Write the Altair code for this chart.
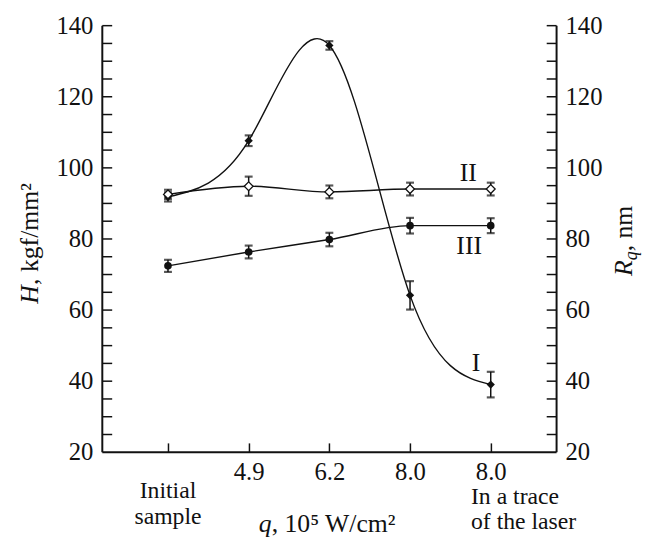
import json
import altair as alt
import pandas as pd

# ---------------- data ----------------
x_index = [0, 1, 2, 3, 4]
x_tick_labels = ["", "4.9", "6.2", "8.0", "8.0"]

curve_I = [91.7, 107.5, 134.3, 64.0, 38.9]
err_I = [1.3, 1.5, 1.2, 4.0, 3.6]
curve_II = [92.4, 94.7, 93.1, 93.9, 93.9]
err_II = [1.3, 2.7, 1.8, 1.8, 1.8]
curve_III = [72.3, 76.2, 79.7, 83.6, 83.6]
err_III = [1.7, 1.8, 1.9, 2.2, 2.1]

y_major = [20, 40, 60, 80, 100, 120, 140]
y_ticks = list(range(25, 145, 5))

left_note = ["Initial", "sample"]
right_note = ["In a trace", "of the laser"]

series_names = ["I", "II", "III"]

rows = []
for name, vals, errs in zip(series_names, [curve_I, curve_II, curve_III], [err_I, err_II, err_III]):
    for xi, v, e in zip(x_index, vals, errs):
        rows.append({"series": name, "xi": xi, "v": v, "err": e})
df = pd.DataFrame(rows)

# ---------------- styling ----------------
FONT = "Liberation Serif"
INK = "#111111"
W, H = 460, 432

xscale = alt.Scale(domain=[-0.82, 4.81], nice=False, zero=False)
yscale = alt.Scale(domain=[20, 140], nice=False, zero=False)

base = alt.Chart(df)

def xq(axis=None):
    return alt.X("xi:Q", scale=xscale, axis=axis)

def yq(field="v", axis=None):
    return alt.Y(f"{field}:Q", scale=yscale, axis=axis)

label_expr = json.dumps(x_tick_labels) + "[datum.value]"

# axis carriers (invisible points)
ax1 = base.mark_point(opacity=0).encode(
    x=xq(alt.Axis(orient="bottom", values=x_index, labelExpr=label_expr, ticks=False,
                  domain=True, domainWidth=2, grid=False, title=None, labelPadding=8,
                  labelFont=FONT, labelFontSize=25, labelColor=INK, domainColor=INK)),
    y=yq("v", alt.Axis(orient="left", values=y_major, ticks=False, domain=True, domainWidth=2,
                       grid=False, title=None, labelPadding=9, labelFont=FONT, labelFontSize=25,
                       labelColor=INK, domainColor=INK)),
)
ax2 = base.mark_point(opacity=0).encode(
    x=xq(alt.Axis(orient="top", offset=-H, values=x_index, labels=False, ticks=True, tickSize=9,
                  tickWidth=1.5, tickColor=INK, domain=False, grid=False, title=None)),
    y=yq("v", alt.Axis(orient="right", values=y_major, ticks=False, domain=True, domainWidth=2,
                       grid=False, title=None, labelPadding=9, labelFont=FONT, labelFontSize=25,
                       labelColor=INK, domainColor=INK)),
)
ax3 = base.mark_point(opacity=0).encode(
    x=xq(None),
    y=yq("v", alt.Axis(orient="right", offset=-W, values=y_ticks, labels=False, ticks=True,
                       tickSize=10, tickWidth=1.5, tickColor=INK, domain=False, grid=False, title=None)),
)
ax4 = base.mark_point(opacity=0).encode(
    x=xq(None),
    y=yq("v", alt.Axis(orient="left", offset=-W, values=y_ticks, labels=False, ticks=True,
                       tickSize=10, tickWidth=1.5, tickColor=INK, domain=False, grid=False, title=None)),
)

# curves
line_I = base.transform_filter("datum.series == 'I'").mark_line(
    interpolate="natural", color=INK, strokeWidth=1.4).encode(x=xq(), y=yq())
line_II = base.transform_filter("datum.series == 'II'").mark_line(
    interpolate="monotone", color=INK, strokeWidth=1.4).encode(x=xq(), y=yq())
line_III = base.transform_filter("datum.series == 'III'").mark_line(
    interpolate="monotone", color=INK, strokeWidth=1.4).encode(x=xq(), y=yq())

# error bars
errb = base.transform_calculate(lo="datum.v - datum.err", hi="datum.v + datum.err")
err_rule = errb.mark_rule(color=INK, strokeWidth=1.5).encode(
    x=xq(), y=yq("lo"), y2="hi:Q")
cap_lo = errb.mark_tick(orient="horizontal", color=INK, size=8, thickness=2.2).encode(
    x=xq(), y=yq("lo"))
cap_hi = errb.mark_tick(orient="horizontal", color=INK, size=8, thickness=2.2).encode(
    x=xq(), y=yq("hi"))

# markers
pts_I = base.transform_filter("datum.series == 'I'").mark_point(
    shape="diamond", filled=True, color=INK, size=70, opacity=1).encode(x=xq(), y=yq())
pts_III = base.transform_filter("datum.series == 'III'").mark_point(
    shape="circle", filled=True, color=INK, size=60, opacity=1).encode(x=xq(), y=yq())
pts_II = base.transform_filter("datum.series == 'II'").mark_point(
    shape="diamond", filled=True, fill="white", stroke=INK, strokeWidth=1.3, size=80,
    opacity=1).encode(x=xq(), y=yq())

# texts
one = alt.Chart(pd.DataFrame({"k": [0]}))

def txt(s, x, y, size=26, italic=False, angle=0, align="left", baseline="alphabetic"):
    kw = dict(font=FONT, fontSize=size, color=INK, align=align, baseline=baseline)
    if italic:
        kw["fontStyle"] = "italic"
    if angle:
        kw["angle"] = angle
    return one.mark_text(**kw).encode(x=alt.value(x), y=alt.value(y), text=alt.value(s))

texts = [
    # left title
    txt("H", -65, 282, italic=True, angle=270),
    txt(", kgf/mm²", -65, 263, angle=270),
    # right title
    txt("R", 537, 254, italic=True, angle=270),
    txt("q", 542, 238, size=18, italic=True, angle=270),
    txt(", nm", 537, 229, angle=270),
    # x title
    txt("q", 159, 513, italic=True),
    txt(", 10⁵ W/cm²", 172, 513),
    # curve labels
    txt("II", 371, 150, align="center", baseline="middle"),
    txt("III", 372, 224, align="center", baseline="middle"),
    txt("I", 379, 342, align="center", baseline="middle"),
]

def note(line, xi, y, align, dx):
    d = pd.DataFrame({"xi": [xi], "t": [line]})
    return alt.Chart(d).mark_text(font=FONT, fontSize=24, color=INK, align=align,
                                  baseline="alphabetic", dx=dx).encode(
        x=xq(), y=alt.value(y), text="t:N")

notes = [
    note(left_note[0], x_index[0], 479, "center", 0),
    note(left_note[1], x_index[0], 505, "center", 0),
    note(right_note[0], x_index[-1], 485, "left", -20),
    note(right_note[1], x_index[-1], 510, "left", -20),
]

chart = alt.layer(
    ax1, ax2, ax3, ax4,
    line_I, line_II, line_III,
    err_rule, cap_lo, cap_hi,
    pts_I, pts_III, pts_II,
    *texts, *notes,
).properties(
    width=W, height=H,
    autosize=alt.AutoSizeParams(type="none"),
    padding={"left": 95, "top": 14, "right": 87, "bottom": 91},
).resolve_axis(x="independent", y="independent").configure(
    font=FONT
).configure_view(stroke=None)

chart.save("out.html", embed_options={"renderer": "svg", "actions": False})
